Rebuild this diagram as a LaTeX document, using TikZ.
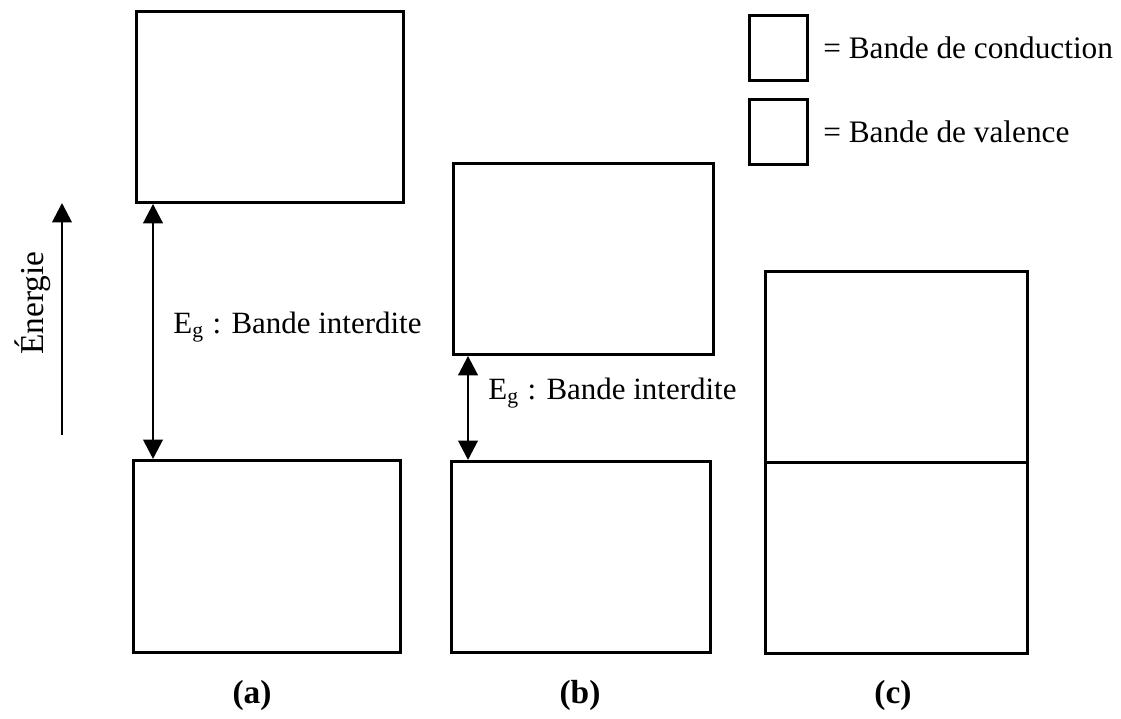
\documentclass[tikz,border=0pt]{standalone}
\usepackage{fontspec}
\setmainfont{Liberation Serif}
\usetikzlibrary{arrows.meta,positioning}

\tikzset{
    bande/.style={draw, line width=0.8pt, inner sep=0pt, anchor=north west},
    fleche/.style={line width=0.8pt, {Triangle[length=5.5pt,width=5.5pt]}-{Triangle[length=5.5pt,width=5.5pt]}},
    legende/.style={font=\fontsize{8.9}{10.5}\selectfont},
}

\begin{document}
\begin{tikzpicture}[x=0.01cm, y=-0.01cm, font=\fontsize{8.8}{10.5}\selectfont]
    \useasboundingbox (0,0) rectangle (1121,719);

    % Axe des energies
    \coordinate (ebas) at (62,435);
    \coordinate (ehaut) at (62,203);
    \draw[line width=0.8pt, -{Triangle[length=5.5pt,width=5.5pt]}] (ebas) -- (ehaut);
    \node[rotate=90, font=\fontsize{9.5}{11}\selectfont] (energie) at (33,303) {Énergie};

    % Isolant
    \node[bande, minimum width=2.67cm, minimum height=1.91cm] (acond) at (135,10) {};
    \node[bande, minimum width=2.67cm, minimum height=1.92cm] (aval) at (132,459) {};
    \draw[fleche] ([xshift=0.18cm]acond.south west) -- ([xshift=0.18cm]acond.south west |- aval.north);
    \node[anchor=west] (aeg) at (161,327) {E\textsubscript{g} : Bande interdite};
    \node[font=\fontsize{9.5}{11}\selectfont\bfseries] (alab) at (252,695) {(a)};

    % Semi-conducteur
    \node[bande, minimum width=2.60cm, minimum height=1.91cm] (bcond) at (452,162) {};
    \node[bande, minimum width=2.59cm, minimum height=1.91cm] (bval) at (450,460) {};
    \draw[fleche] ([xshift=0.16cm]bcond.south west) -- ([xshift=0.16cm]bcond.south west |- bval.north);
    \node[anchor=west] (beg) at (476,393) {E\textsubscript{g} : Bande interdite};
    \node[font=\fontsize{9.5}{11}\selectfont\bfseries] (blab) at (580,695) {(b)};

    % Conducteur
    \node[bande, minimum width=2.62cm, minimum height=1.91cm] (ccond) at (764,270) {};
    \node[bande, minimum width=2.62cm, minimum height=1.91cm] (cval) at (764,461) {};
    \node[font=\fontsize{9.5}{11}\selectfont\bfseries] (clab) at (893,695) {(c)};

    % Legende
    \node[bande, minimum width=0.58cm, minimum height=0.65cm] (legcond) at (748,14) {};
    \node[bande, minimum width=0.58cm, minimum height=0.65cm] (legval) at (748,98) {};
    \node[legende, right=0.02cm of legcond] (txtcond) {= Bande de conduction};
    \node[legende, right=0.02cm of legval] (txtval) {= Bande de valence};
\end{tikzpicture}
\end{document}
